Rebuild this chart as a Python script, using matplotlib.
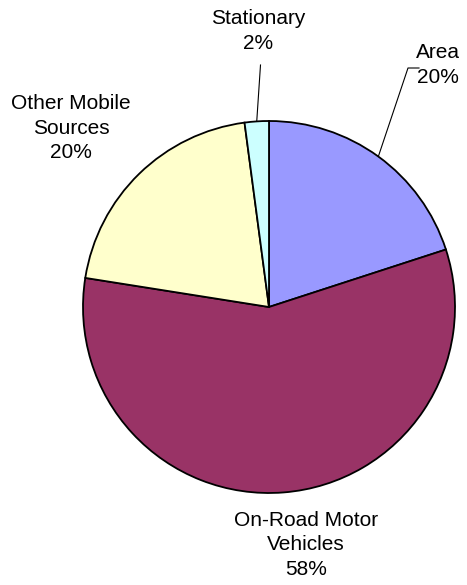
import numpy as np
import matplotlib
matplotlib.use('Agg')
import matplotlib.pyplot as plt

plt.rcParams['font.family'] = ['Liberation Sans', 'DejaVu Sans']

# Data (shares; labels show the rounded percentages)
categories = ['Area', 'On-Road Motor\nVehicles', 'Other Mobile\nSources', 'Stationary']
shares = [20.0, 57.5, 20.4, 2.1]
pct_labels = ['20%', '58%', '20%', '2%']
colors = ['#9999FF', '#993366', '#FFFFCC', '#CCFFFF']

# Canvas in pixel units (y up)
W, H = 467, 585
fig = plt.figure(figsize=(W / 100, H / 100), dpi=100)
ax = fig.add_axes([0, 0, 1, 1])
ax.set_aspect('equal')
ax.axis('off')

cx, cy, r = 269, H - 307, 186
wedges, _ = ax.pie(shares, colors=colors, startangle=90, counterclock=False,
                   center=(cx, cy), radius=r,
                   wedgeprops=dict(edgecolor='black', linewidth=1.3))
ax.set_xlim(0, W)
ax.set_ylim(0, H)

# label block centres (pixels from top)
label_pos = [(438, 65), (306, 545), (71, 128), (258, 31)]
for lab, pct, (x, y) in zip(categories, pct_labels, label_pos):
    ax.text(x, H - y, f'{lab}\n{pct}', ha='center', va='center',
            multialignment='center', fontsize=15, linespacing=1.36)

# leader lines for Area and Stationary, ending at wedge midpoints on the arc
def arc_point(w):
    ang = np.deg2rad((w.theta1 + w.theta2) / 2)
    return cx + r * np.cos(ang), cy + r * np.sin(ang)

ex, ey = arc_point(wedges[0])
ax.plot([419, 408, ex], [H - 68, H - 68, ey], color='black', lw=0.8)
ex, ey = arc_point(wedges[3])
ax.plot([260.5, ex], [H - 65, ey], color='black', lw=0.8)

fig.savefig('out.png', dpi=100)
